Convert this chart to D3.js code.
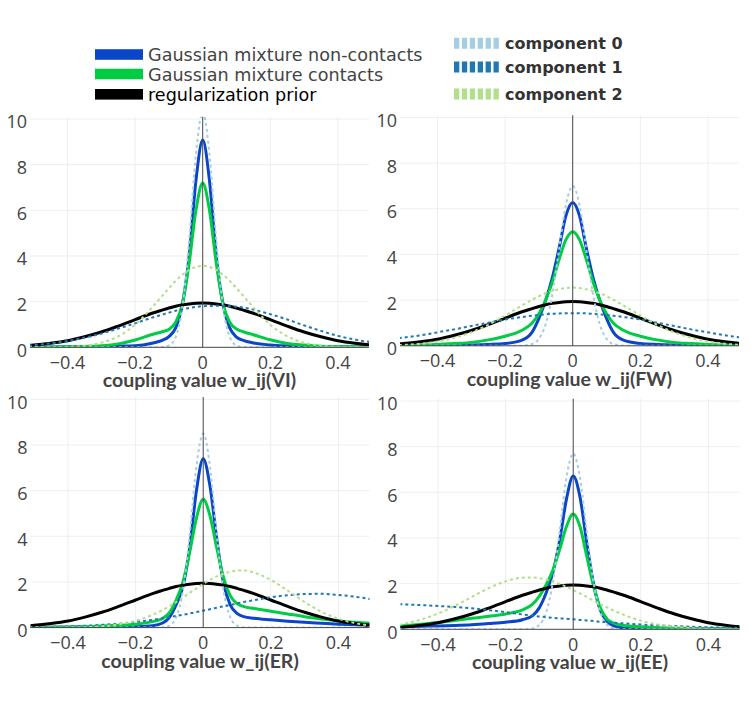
<!DOCTYPE html>
<html>
<head>
<meta charset="utf-8">
<script src="https://cdn.jsdelivr.net/npm/d3@7"></script>
<style>
  body { margin: 0; background: #fff; }
  svg { display: block; }
</style>
</head>
<body>
<svg id="chart" width="754" height="713"></svg>
<script>
// ---------------- DATA ----------------
const xGrid = [-0.55,-0.5,-0.45,-0.4,-0.35,-0.3,-0.25,-0.2,-0.15,-0.12,-0.1,-0.08,-0.06,-0.04,-0.02,0,0.02,0.04,0.06,0.08,0.1,0.12,0.15,0.2,0.25,0.3,0.35,0.4,0.45,0.5,0.55];

const priorDensity = [0.055,0.10,0.18,0.29,0.46,0.67,0.93,1.21,1.49,1.63,1.72,1.80,1.86,1.90,1.93,1.94,1.93,1.90,1.86,1.80,1.72,1.63,1.49,1.21,0.93,0.67,0.46,0.29,0.18,0.10,0.055];

const viNonContacts = [0.005,0.01,0.015,0.02,0.03,0.04,0.05,0.07,0.18,0.3,0.47,0.85,1.9,4.0,7.3,9.08,7.3,4.0,1.9,0.85,0.45,0.3,0.19,0.1,0.06,0.04,0.03,0.02,0.015,0.01,0.005];
const viContacts    = [0.005,0.01,0.015,0.02,0.04,0.07,0.15,0.32,0.56,0.68,0.78,1.1,1.9,3.7,6.0,7.2,6.0,3.7,1.9,1.1,0.8,0.68,0.55,0.33,0.17,0.1,0.05,0.03,0.02,0.01,0.005];
const viComp0 = [0,0,0,0,0,0,0,0,0,0.009,0.08,0.45,1.78,4.72,8.47,10.3,8.47,4.72,1.78,0.45,0.08,0.009,0,0,0,0,0,0,0,0,0];
const viComp1 = [0.06,0.1,0.17,0.28,0.42,0.6,0.82,1.05,1.3,1.43,1.52,1.6,1.67,1.72,1.77,1.8,1.81,1.82,1.82,1.8,1.78,1.74,1.65,1.45,1.22,0.96,0.72,0.5,0.34,0.22,0.13];
const viComp2 = [0,0.001,0.01,0.02,0.07,0.2,0.48,0.99,1.74,2.25,2.59,2.91,3.18,3.39,3.52,3.57,3.52,3.39,3.18,2.91,2.59,2.25,1.74,0.99,0.48,0.2,0.07,0.02,0.01,0.001,0];

const fwNonContacts = [0.008,0.01,0.015,0.02,0.03,0.04,0.06,0.1,0.25,0.6,1.2,2.0,3.0,4.3,5.7,6.28,5.7,4.3,3.0,2.0,1.2,0.6,0.25,0.1,0.06,0.04,0.03,0.02,0.015,0.01,0.008];
const fwContacts    = [0.02,0.03,0.04,0.06,0.1,0.15,0.26,0.42,0.68,1.0,1.4,2.0,2.8,3.8,4.65,5.0,4.65,3.8,2.8,2.0,1.4,1.0,0.68,0.42,0.26,0.15,0.1,0.06,0.04,0.03,0.02];
const fwComp0 = [0,0,0,0,0,0,0,0,0.006,0.08,0.31,0.95,2.27,4.25,6.18,7.0,6.18,4.25,2.27,0.95,0.31,0.08,0.006,0,0,0,0,0,0,0,0];
const fwComp1 = [0.27,0.36,0.46,0.59,0.72,0.87,1.01,1.15,1.26,1.32,1.35,1.38,1.40,1.42,1.43,1.43,1.43,1.42,1.40,1.38,1.35,1.32,1.26,1.15,1.01,0.87,0.72,0.59,0.46,0.36,0.27];
const fwComp2 = [0.02,0.04,0.09,0.19,0.35,0.59,0.92,1.33,1.77,2.02,2.17,2.30,2.40,2.48,2.53,2.55,2.53,2.48,2.40,2.30,2.17,2.02,1.77,1.33,0.92,0.59,0.35,0.19,0.09,0.04,0.02];

const erNonContacts = [0.005,0.01,0.01,0.015,0.02,0.025,0.03,0.04,0.08,0.2,0.45,1.0,1.8,3.5,6.0,7.4,6.2,3.9,1.95,1.0,0.62,0.48,0.41,0.34,0.28,0.23,0.19,0.15,0.12,0.09,0.07];
const erContacts    = [0.01,0.015,0.02,0.03,0.04,0.07,0.1,0.15,0.26,0.4,0.65,1.2,2.0,3.3,4.8,5.62,4.9,3.5,2.2,1.4,1.05,0.92,0.84,0.72,0.6,0.48,0.38,0.29,0.23,0.18,0.14];
const erComp0 = [0,0,0,0,0,0,0,0,0,0.01,0.09,0.45,1.63,4.08,7.07,8.5,7.07,4.08,1.63,0.45,0.09,0.01,0,0,0,0,0,0,0,0,0];
const erComp1 = [0.01,0.02,0.03,0.05,0.08,0.12,0.17,0.25,0.34,0.41,0.46,0.51,0.56,0.62,0.68,0.74,0.80,0.87,0.93,0.99,1.06,1.12,1.20,1.33,1.42,1.47,1.48,1.43,1.35,1.23,1.09];
const erComp2 = [0,0,0,0.01,0.02,0.06,0.14,0.30,0.56,0.77,0.94,1.12,1.32,1.52,1.72,1.91,2.09,2.24,2.36,2.45,2.5,2.5,2.41,2.09,1.62,1.12,0.69,0.39,0.19,0.09,0.03];

const eeNonContacts = [0.1,0.12,0.13,0.15,0.17,0.2,0.25,0.31,0.42,0.6,0.95,1.6,2.5,3.9,5.7,6.72,5.8,3.8,2.0,0.85,0.35,0.15,0.06,0.03,0.02,0.015,0.01,0.01,0.01,0.005,0.005];
const eeContacts    = [0.12,0.16,0.22,0.3,0.39,0.48,0.57,0.67,0.85,1.1,1.45,1.95,2.6,3.5,4.5,5.05,4.5,3.2,1.9,0.95,0.45,0.27,0.17,0.11,0.07,0.05,0.04,0.03,0.02,0.015,0.01];
const eeComp0 = [0,0,0,0,0,0,0,0,0,0.04,0.2,0.74,2.07,4.29,6.65,7.7,6.65,4.29,2.07,0.74,0.2,0.04,0,0,0,0,0,0,0,0,0];
const eeComp1 = [1.1,1.09,1.06,1.02,0.98,0.92,0.84,0.75,0.65,0.6,0.56,0.53,0.5,0.48,0.46,0.44,0.41,0.39,0.36,0.33,0.31,0.29,0.26,0.21,0.17,0.14,0.11,0.09,0.07,0.06,0.05];
const eeComp2 = [0.13,0.24,0.43,0.69,1.03,1.42,1.80,2.10,2.26,2.27,2.24,2.18,2.10,1.99,1.86,1.72,1.57,1.42,1.26,1.10,0.96,0.82,0.63,0.38,0.21,0.11,0.05,0.02,0.01,0,0];

const panelNames = ["VI", "FW", "ER", "EE"];
const xTicks = [-0.4, -0.2, 0, 0.2, 0.4];
const yTicks = [0, 2, 4, 6, 8, 10];
const legendMain = ["Gaussian mixture non-contacts", "Gaussian mixture contacts", "regularization prior"];
const legendComp = ["component 0", "component 1", "component 2"];

// ---------------- STYLE / LAYOUT ----------------
const colNon = "#0b45c8", colCon = "#00cc44", colPrior = "#000000";
const colC0 = "#a6cee3", colC1 = "#1f78b4", colC2 = "#b2df8a";
const tickFont = "'Open Sans', sans-serif";

const panelData = {
  VI: [viNonContacts, viContacts, priorDensity, viComp0, viComp1, viComp2],
  FW: [fwNonContacts, fwContacts, priorDensity, fwComp0, fwComp1, fwComp2],
  ER: [erNonContacts, erContacts, priorDensity, erComp0, erComp1, erComp2],
  EE: [eeNonContacts, eeContacts, priorDensity, eeComp0, eeComp1, eeComp2]
};
const styles = [
  {color: colNon, width: 3, dash: null},
  {color: colCon, width: 3, dash: null},
  {color: colPrior, width: 3, dash: null},
  {color: colC0, width: 2, dash: "3,3"},
  {color: colC1, width: 2, dash: "3,3"},
  {color: colC2, width: 2, dash: "3,3"}
];
const layout = [
  {left: 30, y10: 119.0},
  {left: 400, y10: 117.5},
  {left: 30.5, y10: 399.3},
  {left: 400.5, y10: 401.0}
];
const plotW = 339, unitsH = 228.3;

const svg = d3.select("#chart");

panelNames.forEach((name, i) => {
  const L = layout[i];
  const y0 = L.y10 + unitsH;
  const top = L.y10 - 2.3;
  const x = d3.scaleLinear().domain([-0.511, 0.492]).range([L.left, L.left + plotW]);
  const y = d3.scaleLinear().domain([0, 10]).range([y0, L.y10]);
  const g = svg.append("g");

  const clipId = "clip" + i;
  svg.append("clipPath").attr("id", clipId).append("rect")
    .attr("x", L.left).attr("y", top).attr("width", plotW).attr("height", y0 - top);

  // grid
  g.selectAll(".gx").data(xTicks.filter(t => t !== 0)).enter().append("line")
    .attr("x1", d => x(d)).attr("x2", d => x(d)).attr("y1", top).attr("y2", y0)
    .attr("stroke", "#eee").attr("stroke-width", 1);
  g.selectAll(".gy").data(yTicks.filter(t => t !== 0)).enter().append("line")
    .attr("x1", L.left).attr("x2", L.left + plotW).attr("y1", d => y(d)).attr("y2", d => y(d))
    .attr("stroke", "#eee").attr("stroke-width", 1);

  // curves
  const line = d3.line().x((d, k) => x(xGrid[k])).y(d => y(d)).curve(d3.curveMonotoneX);
  const cg = g.append("g").attr("clip-path", `url(#${clipId})`);
  panelData[name].forEach((series, s) => {
    const st = styles[s];
    const p = cg.append("path").datum(series).attr("d", line)
      .attr("fill", "none").attr("stroke", st.color).attr("stroke-width", st.width)
      .attr("stroke-linejoin", "round");
    if (st.dash) p.attr("stroke-dasharray", st.dash);
  });

  // zero lines
  g.append("line").attr("x1", x(0)).attr("x2", x(0)).attr("y1", top).attr("y2", y0)
    .attr("stroke", "#444").attr("stroke-width", 1);
  g.append("line").attr("x1", L.left).attr("x2", L.left + plotW).attr("y1", y(0)).attr("y2", y(0))
    .attr("stroke", "#444").attr("stroke-width", 1);

  // tick labels
  g.selectAll(".tx").data(xTicks).enter().append("text")
    .attr("x", d => x(d)).attr("y", y0 + 21.5)
    .attr("text-anchor", "middle").attr("font-family", tickFont).attr("font-size", 18)
    .attr("fill", "#444").text(d => d === 0 ? "0" : d3.format(".1f")(d).replace("-", "\u2212"));
  g.selectAll(".ty").data(yTicks).enter().append("text")
    .attr("x", L.left - 3).attr("y", d => y(d) + 9.4)
    .attr("text-anchor", "end").attr("font-family", tickFont).attr("font-size", 18)
    .attr("fill", "#444").text(d => d);

  // axis title
  g.append("text").attr("x", L.left + plotW / 2).attr("y", y0 + 40)
    .attr("text-anchor", "middle").attr("font-family", "Lato, sans-serif").attr("font-weight", "bold")
    .attr("font-size", 19.5).attr("fill", "#444").text(`coupling value w_ij(${name})`);
});

// ---------------- LEGENDS ----------------
const mainCols = [colNon, colCon, colPrior];
const mainRows = [54.5, 74, 94.3];
legendMain.forEach((t, k) => {
  svg.append("rect").attr("x", 95).attr("y", mainRows[k] - 5.3).attr("width", 48).attr("height", 10.6)
    .attr("fill", mainCols[k]);
  svg.append("text").attr("x", 148).attr("y", mainRows[k] + 6.5)
    .attr("font-family", "'DejaVu Sans', sans-serif").attr("font-size", 17.6)
    .attr("fill", k === 2 ? "#000" : "#444").text(t);
});
const compCols = [colC0, colC1, colC2];
const compRows = [43.3, 67, 94];
legendComp.forEach((t, k) => {
  svg.append("line").attr("x1", 454).attr("x2", 500).attr("y1", compRows[k]).attr("y2", compRows[k])
    .attr("stroke", compCols[k]).attr("stroke-width", 11).attr("stroke-dasharray", "5.3,2.6");
  svg.append("text").attr("x", 505).attr("y", compRows[k] + 6)
    .attr("font-family", "'DejaVu Sans', sans-serif").attr("font-weight", "bold").attr("font-size", 16)
    .attr("fill", "#333").text(t);
});
</script>
</body>
</html>
